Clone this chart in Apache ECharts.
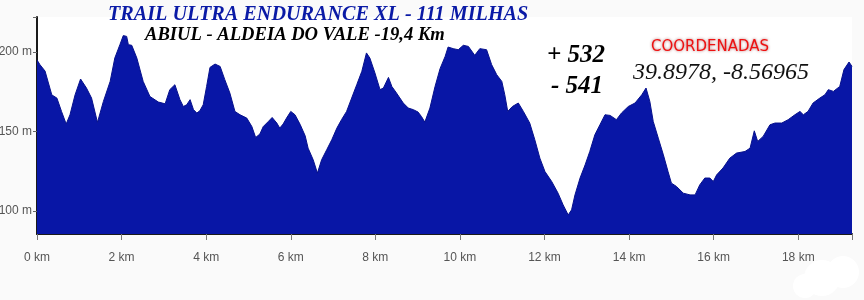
<!DOCTYPE html>
<html>
<head>
<meta charset="utf-8">
<script src="https://cdn.jsdelivr.net/npm/echarts@6/dist/echarts.min.js"></script>
<style>
html,body{margin:0;padding:0;background:#fafafa;}
#chart{width:864px;height:300px;}
</style>
</head>
<body>
<div id="chart"></div>
<script>
// Distance along the trail (km)
const distanceKm = [
  0.00,0.07,0.19,0.27,0.35,0.47,0.58,0.69,0.78,0.90,1.03,1.17,1.29,1.43,1.57,1.73,1.84,1.96,2.04,2.12,
  2.16,2.24,2.36,2.51,2.67,2.87,3.03,3.14,3.26,3.38,3.46,3.54,3.62,3.70,3.78,3.85,3.93,4.01,4.09,4.21,
  4.33,4.44,4.56,4.68,4.80,4.96,5.08,5.17,5.27,5.35,5.47,5.56,5.67,5.74,5.82,5.90,6.00,6.10,6.22,6.34,
  6.41,6.53,6.63,6.73,6.85,6.97,7.09,7.20,7.32,7.44,7.56,7.68,7.79,7.87,7.99,8.11,8.19,8.31,8.39,8.50,
  8.66,8.78,8.90,9.01,9.09,9.17,9.29,9.41,9.53,9.65,9.72,9.84,9.96,10.08,10.20,10.35,10.47,10.63,10.75,10.87,
  10.99,11.06,11.13,11.24,11.38,11.50,11.65,11.77,11.89,12.01,12.17,12.32,12.44,12.56,12.64,12.72,12.84,12.96,13.07,13.19,
  13.31,13.43,13.55,13.70,13.82,13.98,14.14,14.30,14.40,14.49,14.57,14.69,14.81,14.92,15.00,15.12,15.28,15.44,15.56,15.67,
  15.79,15.91,15.99,16.07,16.22,16.38,16.54,16.74,16.86,16.96,17.04,17.17,17.33,17.45,17.61,17.76,17.92,18.04,18.12,18.23,
  18.35,18.51,18.63,18.71,18.83,18.98,19.08,19.20,19.27
];
// Elevation (m)
const elevationM = [
  195,192,188,180.5,173,171,162.6,154.7,160.5,173,183,177.3,171,155.7,168.9,181.5,196.2,204.6,210.3,209.8,
  204.6,204.2,196.2,181.5,172,168.5,167.4,176.3,179.4,170,165.7,166.8,170,163.7,161.6,163,166.8,178.3,190.3,192.4,
  190.9,182.6,174.2,162.6,160.5,158.4,153.1,146.2,148.4,153.1,156.3,158.8,155.3,152.1,154.7,158.4,162.6,160.5,154.5,147.3,
  139.5,132.2,123.8,132.2,138.5,144.8,152.1,157.4,162.6,171,179.4,187.8,199.4,196.2,186.8,176.3,177.3,184,178.3,174.2,
  167.9,164.7,163.7,162.2,159.4,155.9,164.7,178.1,189.5,197.2,203.1,202.1,201.4,204.2,203.5,197.9,202.1,201.4,192,185.7,
  181.5,173.1,162.6,165.7,167.9,162.6,155.3,144.8,133.2,124.8,118.5,111.2,103.8,97.5,100.7,110.1,120.7,129,137.4,147.9,
  154.2,160.5,160.1,157.4,161.6,165.7,167.9,173.1,177.3,168.9,156.3,145.8,135.3,124.8,117.5,115.4,111.2,110.1,110.1,116.4,
  120.7,120.7,118.5,122.7,127,133.2,136.4,137.4,139.5,150.4,143.7,146.9,154.2,155.3,155.3,157.4,160.5,162.6,160.5,162.6,
  167.9,171,173.1,176.3,175.2,178.3,188.9,193.7,190.9
];
const xTickValues = [0,2,4,6,8,10,12,14,16,18];
const yTickValues = [100,150,200];
const titleText = 'TRAIL ULTRA ENDURANCE XL - 111 MILHAS';
const subtitleText = 'ABIUL - ALDEIA DO VALE -19,4 Km';
const gainText = '+ 532';
const lossText = '- 541';
const coordLabel = 'COORDENADAS';
const coordText = '39.8978, -8.56965';

const xMax = distanceKm[distanceKm.length - 1];
const yMin = 85.5, yMax = 222;

const chart = echarts.init(document.getElementById('chart'), null, {renderer: 'canvas'});
chart.setOption({
  backgroundColor: '#fafafa',
  animation: false,
  grid: {left: 37, top: 17, right: 12, bottom: 66, show: true, backgroundColor: '#ffffff', borderWidth: 0,
    containLabel: false, outerBoundsMode: 'none'},
  xAxis: {
    type: 'value', min: 0, max: xMax,
    axisLine: {show: true, lineStyle: {color: '#1a1a1a', width: 2}},
    axisTick: {show: true, customValues: xTickValues.concat([xMax]), length: 6, lineStyle: {color: '#777'}},
    axisLabel: {customValues: xTickValues, formatter: v => v + ' km', color: '#555',
      fontFamily: '"Liberation Sans Narrow", "Liberation Sans", Arial, sans-serif', fontSize: 12, margin: 18},
    splitLine: {show: false}
  },
  yAxis: {
    type: 'value', min: yMin, max: yMax,
    axisLine: {show: true, lineStyle: {color: '#1a1a1a', width: 2}},
    axisTick: {show: true, customValues: yTickValues.concat([yMax]), length: 4, lineStyle: {color: '#666'}},
    axisLabel: {customValues: yTickValues, formatter: v => v + ' m', color: '#555',
      fontFamily: '"Liberation Sans Narrow", "Liberation Sans", Arial, sans-serif', fontSize: 12, margin: 5},
    splitLine: {show: false}
  },
  series: [{
    type: 'line',
    data: distanceKm.map((d, i) => [d, elevationM[i]]),
    showSymbol: false,
    lineStyle: {color: '#06108c', width: 1},
    areaStyle: {color: '#0816a6', opacity: 1, origin: 'start'},
    z: 2
  }],
  graphic: [
    {type: 'text', left: 108, top: 5, z: 10, style: {text: titleText, fill: '#0a1aa6',
      fontFamily: '"Liberation Serif", serif', fontWeight: 'bold', fontStyle: 'italic', fontSize: 20.2}},
    {type: 'text', left: 145, top: 26, z: 10, style: {text: subtitleText, fill: '#000',
      fontFamily: '"Liberation Serif", serif', fontWeight: 'bold', fontStyle: 'italic', fontSize: 18.6}},
    {type: 'text', left: 547, top: 43, z: 10, style: {text: gainText, fill: '#000',
      fontFamily: '"Liberation Serif", serif', fontWeight: 'bold', fontStyle: 'italic', fontSize: 25}},
    {type: 'text', left: 551, top: 74, z: 10, style: {text: lossText, fill: '#000',
      fontFamily: '"Liberation Serif", serif', fontWeight: 'bold', fontStyle: 'italic', fontSize: 25}},
    {type: 'text', left: 651, top: 40, z: 10, style: {text: coordLabel, fill: '#ee1111',
      fontFamily: '"DejaVu Sans", sans-serif', fontSize: 15,
      textShadowColor: 'rgba(120,0,0,0.6)', textShadowBlur: 3}},
    {type: 'text', left: 633, top: 61, z: 10, style: {text: coordText, fill: '#111',
      fontFamily: '"Liberation Serif", serif', fontStyle: 'italic', fontSize: 24}},
    {type: 'circle', z: 10, shape: {cx: 822, cy: 278, r: 18}, style: {fill: '#ffffff'}},
    {type: 'circle', z: 10, shape: {cx: 843, cy: 272, r: 16}, style: {fill: '#ffffff'}},
    {type: 'circle', z: 10, shape: {cx: 805, cy: 286, r: 12}, style: {fill: '#ffffff'}}
  ]
});
</script>
</body>
</html>
